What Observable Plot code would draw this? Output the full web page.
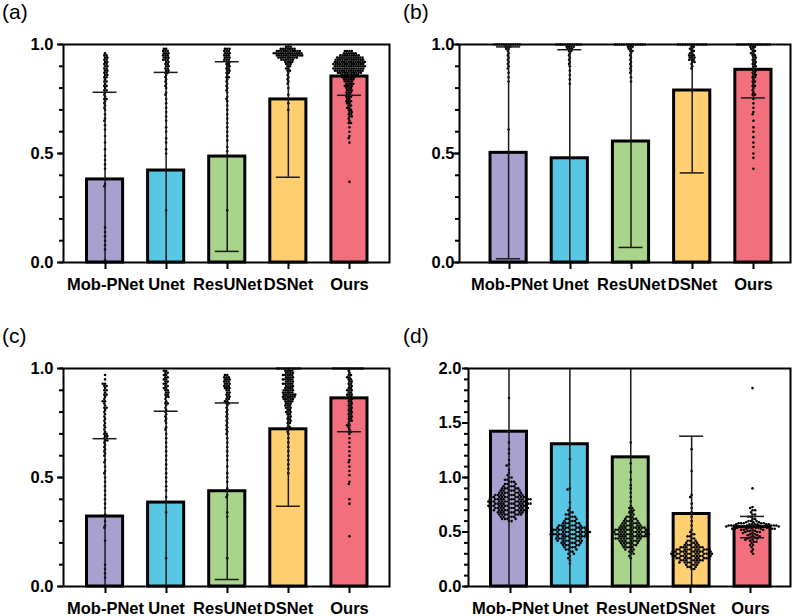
<!DOCTYPE html>
<html>
<head>
<meta charset="utf-8">
<script src="https://cdn.jsdelivr.net/npm/d3@7"></script>
<script src="https://cdn.jsdelivr.net/npm/@observablehq/plot@0.6"></script>
<style>
  html, body { margin: 0; padding: 0; background: #fff; }
  #page { position: relative; width: 797px; height: 616px; background: #fff; overflow: hidden; }
  .panel { position: absolute; }
  .panel svg { position: absolute; left: 0; top: 0; max-width: none; background: transparent; }
  .plabel { position: absolute; font: 21px Arial, "Liberation Sans", Helvetica, sans-serif; line-height: 21px; color: #000; }
</style>
</head>
<body>
<div id="page"></div>
<script>
// ---------- data ----------
const categories = ["Mob-PNet", "Unet", "ResUNet", "DSNet", "Ours"];
const colors = ["#AAA0D0", "#58C7E5", "#A8D48B", "#FFCF70", "#F2707D"];

// bar heights (mean) and error-bar half lengths (SD)
const meanA = [0.381, 0.422, 0.486, 0.748, 0.853];
const sdA   = [0.400, 0.450, 0.435, 0.357, 0.086];
const meanB = [0.503, 0.478, 0.555, 0.789, 0.884];
const sdB   = [0.486, 0.498, 0.486, 0.378, 0.129];
const meanC = [0.321, 0.385, 0.437, 0.721, 0.863];
const sdC   = [0.357, 0.419, 0.405, 0.353, 0.153];
const meanD = [1.420, 1.305, 1.185, 0.665, 0.545];
const sdD   = [1.550, 1.420, 1.300, 0.714, 0.098];

// individual points as [value, how many points at that value]
const A_mob = [[.96,1],[.95,2],[.94,2],[.93,2],[.92,2],[.91,2],[.9,2],[.89,2],[.88,2],[.87,2],[.86,2],[.85,2],[.84,1],[.83,2],[.82,1],[.81,2],[.8,1],[.79,2],[.78,1],[.77,1],[.76,1],[.75,2],[.74,1],[.73,1],[.72,1],[.71,1],[.7,1],[.68,1],[.66,1],[.65,1],[.63,1],[.61,1],[.58,1],[.55,1],[.52,1],[.49,1],[.47,1],[.45,1],[.43,1],[.36,1],[.35,1],[.16,1],[.14,1],[.12,1],[.1,1],[.08,1],[.06,1],[.01,1]];
const A_unet = [[.98,2],[.97,3],[.96,3],[.95,3],[.94,3],[.93,3],[.92,2],[.91,2],[.9,2],[.89,2],[.88,2],[.87,2],[.86,1],[.85,1],[.84,1],[.83,1],[.82,1],[.81,1],[.8,1],[.78,1],[.77,1],[.75,1],[.73,1],[.71,1],[.69,1],[.67,1],[.65,1],[.62,1],[.6,1],[.57,1],[.55,1],[.52,1],[.5,1],[.24,1]];
const A_res = [[.98,3],[.97,3],[.96,3],[.95,3],[.94,3],[.93,3],[.92,2],[.91,2],[.9,2],[.89,2],[.88,2],[.87,2],[.86,1],[.85,2],[.84,1],[.83,1],[.82,1],[.81,1],[.8,1],[.79,1],[.78,1],[.76,1],[.75,1],[.74,1],[.72,1],[.7,1],[.68,1],[.66,1],[.64,1],[.62,1],[.6,1],[.58,1],[.56,1],[.53,1],[.51,1],[.49,1],[.24,1]];
const A_ds = [[.99,3],[.98,7],[.97,11],[.96,13],[.95,12],[.94,9],[.93,6],[.92,4],[.91,3],[.9,2],[.89,2],[.88,2],[.87,1],[.86,1],[.85,1],[.84,1],[.83,1],[.82,1],[.8,1],[.77,1],[.73,1],[.7,1]];
const A_ours = [[.97,4],[.96,6],[.95,9],[.94,12],[.93,13],[.92,14],[.91,14],[.9,14],[.89,14],[.88,13],[.87,11],[.86,8],[.85,6],[.84,5],[.83,4],[.82,4],[.81,4],[.8,3],[.79,3],[.78,3],[.77,2],[.76,3],[.75,2],[.74,3],[.73,2],[.72,2],[.71,2],[.7,2],[.69,2],[.68,2],[.67,2],[.66,1],[.65,1],[.64,2],[.62,1],[.6,1],[.58,1],[.57,1],[.55,1],[.37,1]];

const B_mob = [[1,12],[.99,3],[.98,2],[.97,1],[.96,1],[.95,1],[.94,1],[.93,1],[.92,1],[.91,1],[.9,1],[.89,1],[.87,1],[.85,1],[.83,1],[.61,1]];
const B_unet = [[1,12],[.99,4],[.98,3],[.97,2],[.96,1],[.95,1],[.94,1],[.93,1],[.92,1],[.91,1],[.9,1],[.88,1],[.86,1],[.84,1],[.82,1]];
const B_res = [[1,14],[.99,3],[.98,2],[.97,2],[.96,1],[.95,1],[.94,1],[.93,1],[.92,1],[.91,1],[.9,1],[.89,1],[.88,1],[.87,1],[.85,1],[.83,1]];
const B_ds = [[1,13],[.99,2],[.98,2],[.97,2],[.96,2],[.95,3],[.94,3],[.93,3],[.92,2],[.91,1],[.9,1],[.89,1]];
const B_ours = [[1,15],[.99,3],[.98,2],[.97,2],[.96,2],[.95,2],[.94,2],[.93,2],[.92,2],[.91,2],[.9,2],[.89,2],[.88,2],[.87,2],[.86,2],[.85,2],[.84,1],[.83,2],[.82,1],[.81,2],[.8,1],[.79,1],[.78,1],[.77,2],[.75,1],[.73,1],[.71,1],[.69,1],[.68,1],[.65,1],[.62,1],[.6,1],[.575,1],[.55,1],[.53,1],[.5,1],[.48,1],[.43,1]];

const C_mob = [[.97,1],[.95,1],[.93,2],[.92,2],[.91,1],[.9,2],[.89,1],[.88,2],[.87,1],[.86,1],[.85,2],[.84,1],[.83,1],[.82,2],[.81,1],[.8,1],[.79,1],[.78,1],[.77,1],[.76,1],[.75,1],[.74,1],[.73,1],[.72,1],[.71,1],[.7,2],[.69,2],[.68,2],[.67,2],[.66,1],[.65,1],[.64,1],[.63,1],[.62,1],[.61,1],[.6,1],[.58,1],[.57,1],[.55,1],[.53,1],[.52,1],[.5,1],[.48,1],[.46,1],[.44,1],[.42,1],[.4,1],[.38,1],[.36,1],[.33,1],[.3,1],[.28,1],[.27,1],[.21,1],[.1,1],[.08,1],[.06,1],[.04,1]];
const C_unet = [[.99,2],[.98,2],[.97,2],[.96,2],[.95,2],[.94,2],[.93,2],[.92,2],[.91,2],[.9,2],[.89,2],[.88,2],[.87,2],[.86,1],[.85,1],[.84,2],[.83,1],[.82,1],[.81,1],[.8,1],[.79,1],[.78,1],[.77,1],[.76,1],[.75,1],[.73,1],[.72,1],[.7,1],[.68,1],[.66,1],[.64,1],[.62,1],[.6,1],[.58,1],[.56,1],[.54,1],[.52,1],[.5,1],[.48,1],[.46,1],[.44,1],[.41,1],[.34,1],[.13,1]];
const C_res = [[.97,2],[.96,3],[.95,3],[.94,3],[.93,3],[.92,3],[.91,3],[.9,2],[.89,2],[.88,2],[.87,2],[.86,2],[.85,2],[.84,2],[.83,1],[.82,1],[.81,1],[.8,1],[.79,1],[.78,1],[.77,1],[.76,1],[.75,1],[.74,1],[.73,1],[.72,1],[.71,1],[.7,1],[.68,1],[.66,1],[.64,1],[.62,1],[.6,1],[.58,1],[.55,1],[.52,1],[.5,1],[.48,1],[.45,1],[.42,1],[.41,1],[.34,1],[.32,1],[.13,1]];
const C_ds = [[1,11],[.99,4],[.98,4],[.97,5],[.96,4],[.95,5],[.94,4],[.93,5],[.92,4],[.91,4],[.9,5],[.89,5],[.88,6],[.87,6],[.86,5],[.85,4],[.84,3],[.83,3],[.82,3],[.81,2],[.8,3],[.79,2],[.78,2],[.77,2],[.76,2],[.75,2],[.74,1],[.73,2],[.72,1],[.71,1],[.7,1],[.68,1],[.66,1],[.64,1],[.62,1],[.6,1],[.58,1],[.56,1],[.54,1],[.52,1]];
const C_ours = [[1,14],[.99,1],[.98,1],[.97,2],[.96,2],[.95,2],[.94,2],[.93,2],[.92,2],[.91,2],[.9,3],[.89,2],[.88,3],[.87,2],[.86,2],[.85,2],[.84,2],[.83,2],[.82,2],[.81,2],[.8,2],[.79,2],[.78,2],[.77,2],[.76,2],[.75,1],[.74,2],[.73,1],[.72,1],[.71,2],[.7,1],[.68,1],[.66,1],[.64,1],[.62,1],[.6,1],[.58,1],[.57,1],[.55,1],[.53,1],[.51,1],[.48,1],[.47,1],[.4,1],[.38,1],[.23,1]];

const D_mob = [[1.73,1],[1.32,1],[1.26,1],[1.22,1],[1.16,1],[1.12,1],[1.11,1],[1.07,1],[1.04,1],[1.02,1],[1.0,2],[.98,2],[.96,3],[.94,3],[.92,4],[.9,5],[.88,6],[.86,7],[.84,9],[.82,11],[.8,12],[.78,12],[.76,12],[.74,12],[.72,11],[.7,10],[.68,8],[.66,7],[.64,5],[.62,4],[.6,2]];
const D_unet = [[1.17,1],[.9,1],[.89,1],[.77,1],[.72,1],[.7,1],[.68,2],[.66,2],[.64,3],[.62,3],[.6,4],[.58,5],[.56,7],[.54,8],[.52,10],[.5,11],[.48,11],[.46,9],[.44,8],[.42,7],[.4,6],[.38,5],[.36,4],[.34,3],[.32,2],[.3,2],[.28,1],[.26,1],[.24,1],[.21,1]];
const D_res = [[1.32,1],[1.13,1],[1.05,1],[.98,1],[.93,1],[.9,1],[.86,1],[.82,1],[.78,1],[.74,1],[.72,2],[.7,2],[.68,2],[.66,2],[.64,3],[.62,4],[.6,5],[.58,6],[.56,7],[.54,9],[.52,10],[.5,11],[.48,11],[.46,10],[.44,9],[.42,7],[.4,6],[.38,5],[.36,4],[.34,3],[.32,2],[.3,2],[.28,1],[.26,1]];
const D_ds = [[1.26,1],[1.06,1],[.84,1],[.82,1],[.76,1],[.72,1],[.68,1],[.64,1],[.6,1],[.56,1],[.52,1],[.5,1],[.48,2],[.46,2],[.44,2],[.42,3],[.4,4],[.38,5],[.36,8],[.34,10],[.32,11],[.3,12],[.28,11],[.26,10],[.24,8],[.22,6],[.2,4],[.18,3],[.16,2]];
const D_ours = [[1.82,1],[.9,1],[.73,1],[.72,1],[.7,2],[.68,1],[.66,2],[.64,2],[.62,2],[.6,3],[.59,3],[.58,5],[.57,7],[.56,8],[.55,8],[.54,7],[.53,6],[.52,4],[.51,3],[.5,3],[.49,2],[.48,2],[.47,2],[.46,2],[.45,2],[.44,2],[.43,2],[.42,1],[.41,2],[.4,1],[.38,2],[.36,1],[.34,1],[.32,1],[.3,1]];

// axis ticks
const ticks1 = [0, 0.5, 1.0];
const minor1 = [0, .1, .2, .3, .4, .5, .6, .7, .8, .9, 1.0];
const ticks2 = [0, 0.5, 1.0, 1.5, 2.0];
const minor2 = [0, .1, .2, .3, .4, .5, .6, .7, .8, .9, 1.0, 1.1, 1.2, 1.3, 1.4, 1.5, 1.6, 1.7, 1.8, 1.9, 2.0];

// ---------- layout ----------
const panels = [
  {label: "(a)", lx: 2, lby: 18, left: 0, top: 0, w: 398, h: 300, frame: [63, 389, 44, 262], bars: [85, 368.5],
   ymax: 1, ticks: ticks1, minor: minor1, mean: meanA, sd: sdA, dots: [A_mob, A_unet, A_res, A_ds, A_ours], gap: 4, pad: -0.3},
  {label: "(b)", lx: 403, lby: 18, left: 398, top: 0, w: 399, h: 300, frame: [459, 790, 44, 262], bars: [488.5, 772.5],
   ymax: 1, ticks: ticks1, minor: minor1, mean: meanB, sd: sdB, dots: [B_mob, B_unet, B_res, B_ds, B_ours], gap: -1, pad: -0.3},
  {label: "(c)", lx: 2, lby: 342, left: 0, top: 300, w: 398, h: 316, frame: [63, 389, 368, 586], bars: [85, 368.5],
   ymax: 1, ticks: ticks1, minor: minor1, mean: meanC, sd: sdC, dots: [C_mob, C_unet, C_res, C_ds, C_ours], gap: 4, pad: -0.3},
  {label: "(d)", lx: 403, lby: 342, left: 398, top: 300, w: 399, h: 316, frame: [468, 790, 368, 586], bars: [489, 771.5],
   ymax: 2, ticks: ticks2, minor: minor2, mean: meanD, sd: sdD, dots: [D_mob, D_unet, D_res, D_ds, D_ours], gap: 1, pad: 0}
];

const FONT = 'Arial, "Liberation Sans", Helvetica, sans-serif';
const PAD_INNER = 0.36;
const page = document.getElementById("page");

function expand(pairs) {
  const out = [];
  for (const [v, n] of pairs) for (let k = 0; k < n; k++) out.push(v);
  return out;
}

for (const p of panels) {
  const div = document.createElement("div");
  div.className = "panel";
  Object.assign(div.style, {left: p.left + "px", top: p.top + "px", width: p.w + "px", height: p.h + "px"});
  page.appendChild(div);

  const barRows = categories.map((c, i) => ({cat: c, mean: p.mean[i], lo: p.mean[i] - p.sd[i], hi: p.mean[i] + p.sd[i]}));
  const dotRows = [];
  categories.forEach((c, i) => expand(p.dots[i]).forEach(v => dotRows.push({cat: c, v})));

  const mT = p.frame[2] - p.top, mB = p.top + p.h - p.frame[3];
  const span = p.bars[1] - p.bars[0];
  const step = span / (categories.length - PAD_INNER);
  const bw = step * (1 - PAD_INNER);
  const capHalf = 12 / (bw / 2);   // cap half-width in the [-1, 1] within-bar coordinate

  const data = Plot.plot({
    width: p.w, height: p.h,
    marginLeft: p.bars[0] - p.left, marginRight: p.left + p.w - p.bars[1],
    marginTop: mT, marginBottom: mB,
    fx: {domain: categories, paddingInner: PAD_INNER, paddingOuter: 0, axis: null, round: false, label: null},
    x: {domain: [-1, 1], axis: null},
    y: {domain: [0, p.ymax], axis: null, clamp: true},
    color: {domain: categories, range: colors},
    style: {background: "transparent", overflow: "visible"},
    marks: [
      Plot.barY(barRows, {fx: "cat", y: "mean", fill: "cat", stroke: "#000", strokeWidth: 3, insetLeft: 1.5, insetRight: 1.5}),
      Plot.dot(dotRows, Plot.dodgeX({anchor: "middle", padding: p.pad}, {fx: "cat", y: "v", r: 1.3, fill: "#000", stroke: "none"})),
      Plot.ruleX(barRows, {fx: "cat", x: () => 0, y1: "lo", y2: "hi", stroke: "#1a1a1a", strokeWidth: 1.5}),
      Plot.ruleY(barRows.filter(d => d.hi <= p.ymax), {fx: "cat", y: "hi", x1: () => -capHalf, x2: () => capHalf, stroke: "#1a1a1a", strokeWidth: 1.5}),
      Plot.ruleY(barRows.filter(d => d.lo >= 0), {fx: "cat", y: "lo", x1: () => -capHalf, x2: () => capHalf, stroke: "#1a1a1a", strokeWidth: 1.5})
    ]
  });
  div.appendChild(data);

  const c0 = p.bars[0] + bw / 2 - p.left, c1 = p.bars[1] - bw / 2 - p.left;
  const axes = Plot.plot({
    width: p.w, height: p.h,
    marginLeft: p.frame[0] - p.left, marginRight: p.left + p.w - p.frame[1],
    marginTop: mT, marginBottom: mB,
    x: {type: "point", domain: categories, range: [c0, c1], padding: 0, label: null},
    y: {domain: [0, p.ymax], label: null},
    style: {background: "transparent", overflow: "visible", fontFamily: FONT, fontWeight: "bold", fontSize: "16px", color: "#000"},
    marks: [
      Plot.axisY({ticks: p.minor, tickSize: 4, strokeWidth: 2, tickFormat: () => "", label: null}),
      Plot.axisY({ticks: p.ticks, tickSize: 6, strokeWidth: 2, tickPadding: p.gap, tickFormat: d => d.toFixed(1), fontSize: 16.5, fontWeight: "bold", label: null}),
      Plot.axisX({tickSize: 7, strokeWidth: 2, tickPadding: 9, fontSize: 16.5, fontWeight: "bold", label: null}),
      Plot.frame({stroke: "#000", strokeWidth: 2})
    ]
  });
  div.appendChild(axes);

  const lab = document.createElement("div");
  lab.className = "plabel";
  lab.textContent = p.label;
  Object.assign(lab.style, {left: p.lx + "px", top: (p.lby - 17) + "px"});
  page.appendChild(lab);
}
</script>
</body>
</html>
